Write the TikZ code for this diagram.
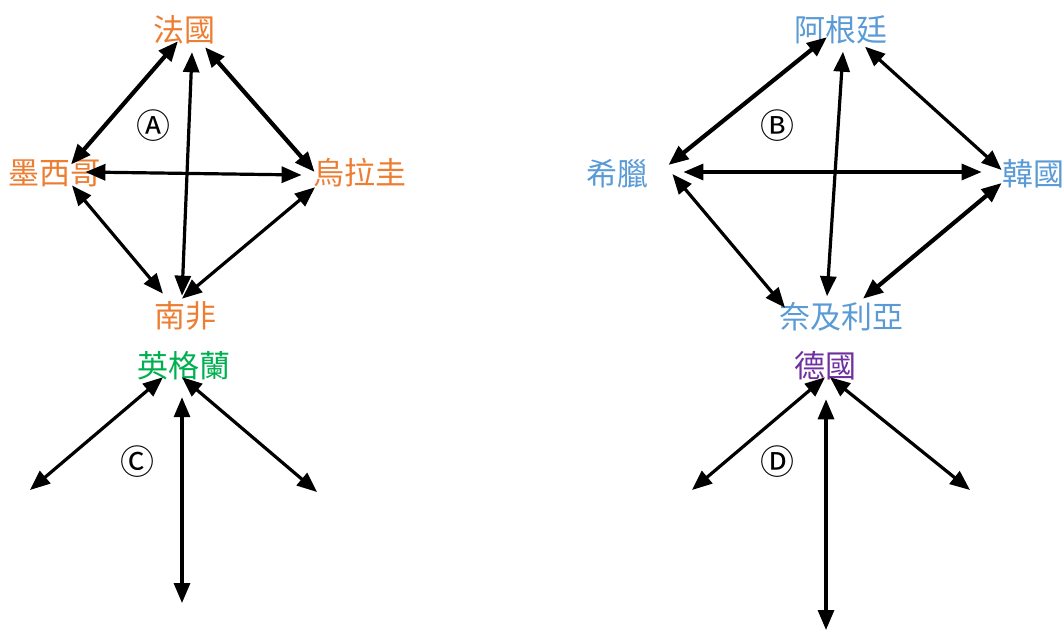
\documentclass[tikz,border=0pt]{standalone}
\usepackage{fontspec}
\newfontfamily\cjk{Noto Sans CJK TC}
\usetikzlibrary{arrows.meta}
\definecolor{frorange}{HTML}{ED7D31}
\definecolor{agblue}{HTML}{5B9BD5}
\definecolor{engreen}{HTML}{00B050}
\definecolor{depurple}{HTML}{7030A0}

\begin{document}
\begin{tikzpicture}[x=0.5pt,y=-0.5pt,
    country/.style={inner sep=0pt,font=\cjk\fontsize{15.5pt}{16pt}\selectfont},
    tag/.style={inner sep=0pt,font=\cjk\fontsize{17pt}{18pt}\selectfont},
    link/.style={line width=1.6pt,{Triangle[length=10pt,width=8pt]}-{Triangle[length=10pt,width=8pt]}},
    heavy/.style={line width=2.1pt}]
    \useasboundingbox (0,0) rectangle (1064,632);

    % group A
    \node[country,text=frorange] (fr) at (184,30) {法國};
    \node[country,text=frorange] (mx) at (55,173) {墨西哥};
    \node[country,text=frorange] (ur) at (360,173) {烏拉圭};
    \node[country,text=frorange] (sa) at (185,316) {南非};
    \node[tag] (ta) at (153,126) {Ⓐ};
    \draw[link,heavy] ([xshift=-3pt,yshift=1.75pt]fr.south) -- ([xshift=8pt,yshift=-2.75pt]mx.north);
    \draw[link] ([xshift=4pt,yshift=-3.75pt]fr.south) -- ([xshift=-1.5pt,yshift=2.75pt]sa.north);
    \draw[link,heavy] ([xshift=10.5pt,yshift=-1.25pt]fr.south) -- ([xshift=0.75pt,yshift=0.5pt]ur.west);
    \draw[link] ([xshift=-8.25pt,yshift=0.5pt]mx.east) -- ([xshift=-5.75pt,yshift=-1pt]ur.west);
    \draw[link] ([xshift=8.5pt,yshift=0.75pt]mx.south) -- ([xshift=-11pt,yshift=3.75pt]sa.north);
    \draw[link] ([xshift=-22.5pt,yshift=0.25pt]ur.south) -- ([xshift=-1.5pt,yshift=1.25pt]sa.north);

    % group B
    \node[country,text=agblue] (ag) at (841,30) {阿根廷};
    \node[country,text=agblue] (gr) at (617,174) {希臘};
    \node[country,text=agblue] (kr) at (1033,174) {韓國};
    \node[country,text=agblue] (ng) at (841,317) {奈及利亞};
    \node[tag] (tb) at (777,126) {Ⓑ};
    \draw[link,heavy] ([xshift=-7pt,yshift=3.75pt]ag.south) -- ([xshift=10pt,yshift=4.5pt]gr.east);
    \draw[link] ([xshift=1pt,yshift=-3.5pt]ag.south) -- ([xshift=-7pt,yshift=3pt]ng.north);
    \draw[link] ([xshift=12pt,yshift=-1pt]ag.south) -- ([yshift=2pt]kr.west);
    \draw[link] ([xshift=17.5pt,yshift=1pt]gr.east) -- ([xshift=-10pt,yshift=1pt]kr.west);
    \draw[link] ([xshift=12pt]gr.east) -- ([xshift=-28pt,yshift=-2.75pt]ng.north);
    \draw[link,heavy] ([yshift=-4.5pt]kr.west) -- ([xshift=11pt,yshift=1.75pt]ng.north);

    % group C
    \node[country,text=engreen] (en) at (184,366) {英格蘭};
    \node[tag] (tc) at (137,462) {Ⓒ};
    \coordinate (cl) at (30,490);
    \coordinate (cb) at (182,603);
    \coordinate (cr) at (317,492);
    \draw[link] ([xshift=-10.5pt,yshift=1.75pt]en.south) -- (cl);
    \draw[link] ([xshift=-1pt,yshift=-8.25pt]en.south) -- (cb);
    \draw[link] ([xshift=-1pt,yshift=1.75pt]en.south) -- (cr);

    % group D
    \node[country,text=depurple] (de) at (825,366) {德國};
    \node[tag] (td) at (777,462) {Ⓓ};
    \coordinate (dl) at (692,490);
    \coordinate (db) at (826,630);
    \coordinate (dr) at (970,490);
    \draw[link] ([yshift=1.75pt]de.south) -- (dl);
    \draw[link] ([xshift=0.5pt,yshift=-9.25pt]de.south) -- (db);
    \draw[link] ([xshift=2.5pt,yshift=1.75pt]de.south) -- (dr);
\end{tikzpicture}
\end{document}
